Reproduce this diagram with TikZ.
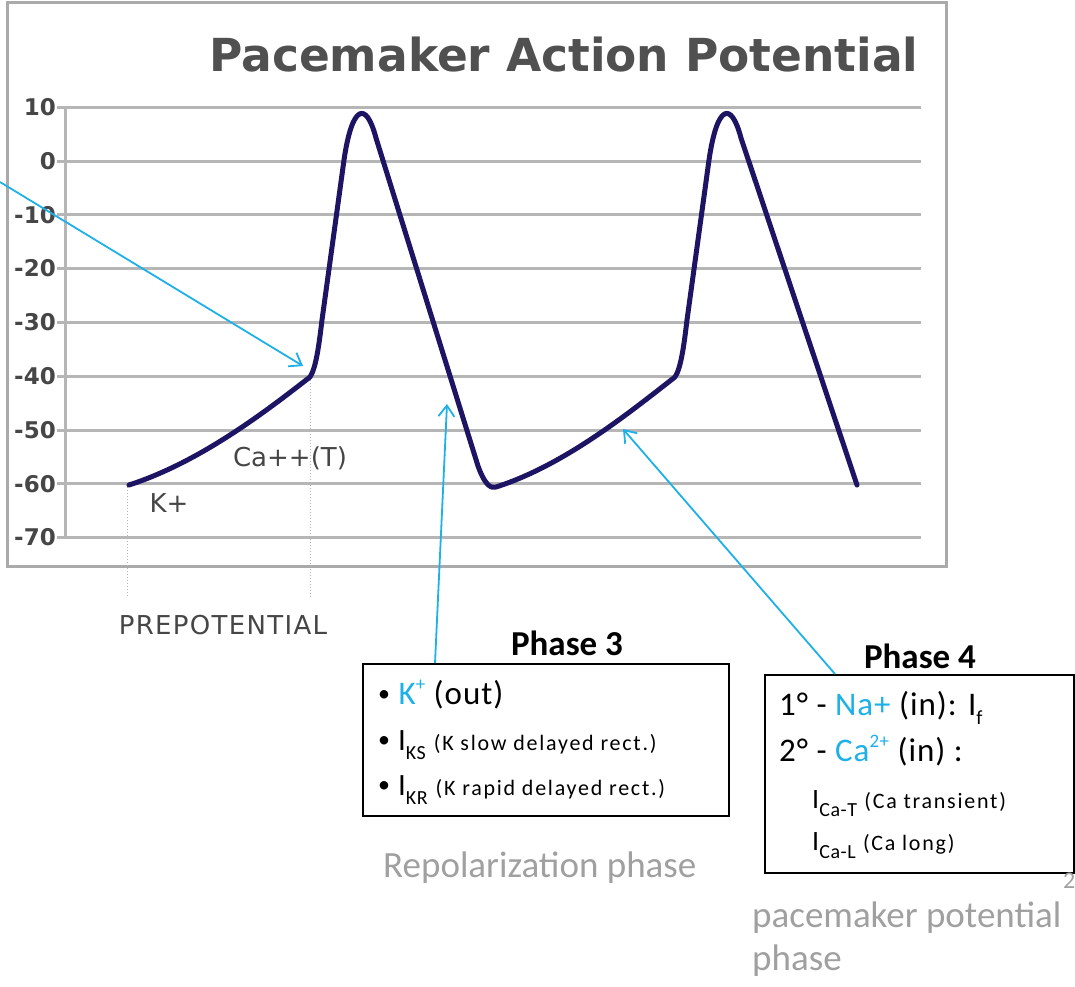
\documentclass[tikz,border=0pt]{standalone}
\usepackage{fontspec}
\setmainfont{Carlito}
\newfontfamily\chartfont{DejaVu Sans}
\newfontfamily\spacedfont[LetterSpace=5]{DejaVu Sans}
\newfontfamily\boxfont[LetterSpace=3]{Carlito}
\newfontfamily\smallfont[LetterSpace=8]{Carlito}
\usepackage{xcolor}
\usetikzlibrary{positioning,arrows.meta}

\definecolor{apblue}{RGB}{30,20,100}
\definecolor{ionblue}{RGB}{30,176,232}
\definecolor{gridgray}{RGB}{182,182,182}
\definecolor{framegray}{RGB}{170,170,170}
\definecolor{labelgray}{RGB}{70,70,70}
\definecolor{titlegray}{RGB}{80,80,80}
\definecolor{notegray}{RGB}{160,160,160}

\newcommand{\subtxt}[1]{\raisebox{-0.3em}{\fontsize{20}{20}\selectfont #1}}
\newcommand{\suptxt}[1]{\raisebox{0.42em}{\fontsize{19}{19}\selectfont #1}}
\newcommand{\ion}[1]{\textcolor{ionblue}{#1}}
\newcommand{\smallnote}[1]{{\smallfont\fontsize{22}{24}\selectfont #1}}
\newcommand{\dotmark}{{\fontsize{24}{24}\selectfont\raisebox{0.12em}{•}}}

\begin{document}
\begin{tikzpicture}[x=1pt, y=-1pt,
  gridline/.style={draw=gridgray, line width=3pt},
  aptrace/.style={draw=apblue, line width=5pt, line join=round, line cap=round},
  ylab/.style={font=\chartfont\bfseries\fontsize{23}{23}\selectfont, text=labelgray, anchor=east, inner sep=0pt},
  chartlab/.style={font=\chartfont\fontsize{26}{26}\selectfont, text=labelgray, inner sep=0pt},
  phasebox/.style={draw=black, line width=1.6pt, anchor=north west, inner sep=0pt},
  phasetitle/.style={font=\bfseries\fontsize{35}{35}\selectfont, inner sep=0pt, anchor=base},
  boxline/.style={font=\boxfont\fontsize{33}{36}\selectfont, inner sep=0pt, anchor=base west},
  note/.style={font=\fontsize{37}{44}\selectfont, text=notegray, inner sep=0pt, anchor=base west},
  pointer/.style={draw=ionblue, line width=1.8pt, -{Straight Barb[length=11pt, width=16pt, line width=1.8pt]}},
  guide/.style={draw=gridgray, line width=1pt, dotted}]
\useasboundingbox (0,0) rectangle (1075,986);

% chart frame and title
\draw[framegray, line width=3pt] (7,2) rectangle (946,566);
\node[font=\chartfont\bfseries\fontsize{45.5}{45.5}\selectfont, text=titlegray, inner sep=0pt, anchor=base west]
  (title) at (209,71) {Pacemaker Action Potential};

% grid, axis and y labels
\foreach \v in {10,0,-10,...,-70} {
  \draw[gridline] (57,{161-5.38*\v}) -- (921,{161-5.38*\v});
  \node[ylab] (y\v) at (56,{161-5.38*\v}) {\v};
}
\draw[gridline] (65,107) -- (65,538);

% guides below the prepotential
\foreach \gx/\gy in {127/487,310/377} \draw[guide] (\gx,\gy) -- (\gx,598);

% action potential trace
\draw[aptrace] (129,485) .. controls (200,462) and (265,412) .. (310,377)
  .. controls (316,368) and (319,345) .. (322,320) -- (344,160)
  .. controls (352,105) and (366,100) .. (376,138) -- (478,466)
  .. controls (486,488) and (492,488) .. (496,487)
  .. controls (565,465) and (630,412) .. (675,377)
  .. controls (681,368) and (684,345) .. (687,320) -- (709,160)
  .. controls (717,105) and (731,100) .. (741,138) -- (857,485);

\node[chartlab] (kplus) at (169,503) {K+};
\node[chartlab] (catlab) at (290,458) {Ca++(T)};
\node[chartlab, font=\spacedfont\fontsize{26}{26}\selectfont] (prepot) at (223,625) {PREPOTENTIAL};

% phase boxes
\node[phasebox, minimum width=366pt, minimum height=152pt] (p3box) at (362,663) {};
\node[phasebox, minimum width=309pt, minimum height=198pt] (p4box) at (764,674) {};
\node[phasetitle] (p3title) at (567,655) {Phase 3};
\node[phasetitle] (p4title) at (920,668) {Phase 4};

\node[boxline] (kout) at (378,704) {\dotmark\ \ion{K\suptxt{+}} (out)};
\node[boxline, font=\boxfont\fontsize{31}{36}\selectfont] (iks) at (378,750) {\dotmark\ I\subtxt{KS} \smallnote{(K slow delayed rect.)}};
\node[boxline, font=\boxfont\fontsize{31}{36}\selectfont] (ikr) at (378,795) {\dotmark\ I\subtxt{KR} \smallnote{(K rapid delayed rect.)}};

\node[boxline] (nain) at (779,715) {1° - \ion{Na+} (in): I\subtxt{f}};
\node[boxline] (cain) at (779,761) {2° - \ion{Ca\suptxt{2+}} (in) :};
\node[boxline, font=\boxfont\fontsize{28}{36}\selectfont] (icat) at (812,808) {I\subtxt{Ca-T} \smallnote{(Ca transient)}};
\node[boxline, font=\boxfont\fontsize{28}{36}\selectfont] (ical) at (812,850) {I\subtxt{Ca-L} \smallnote{(Ca long)}};

\node[note] (repol) at (383,877) {Repolarization phase};
\node[note] (pmnote) at (752,927) {pacemaker potential};
\node[note] (pmphase) at (752,970) {phase};
\node[note, font=\fontsize{24}{24}\selectfont] (pgnum) at (1063,888) {2};

% pointers
\coordinate (offleft) at (0,182);
\coordinate (kneetip) at (303,366);
\coordinate (p3tip) at (447,404);
\coordinate (p4tip) at (623,429);
\draw[pointer] (offleft) -- (kneetip);
\draw[pointer] ([xshift=73pt]p3box.north west) -- (p3tip);
\draw[pointer] ([xshift=71pt]p4box.north west) -- (p4tip);
\end{tikzpicture}
\end{document}
